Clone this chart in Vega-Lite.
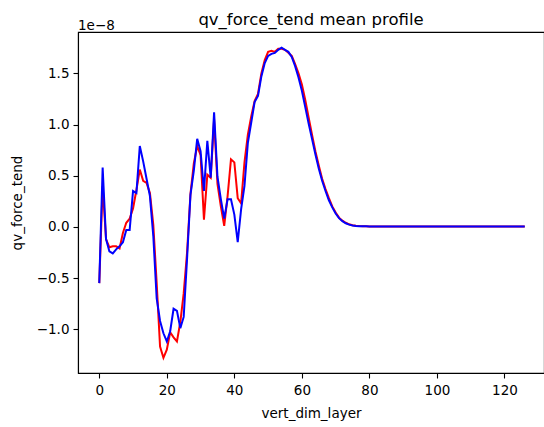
{
  "$schema": "https://vega.github.io/schema/vega-lite/v6.json",
  "autosize": {"type": "none"},
  "padding": {"left": 78, "top": 32, "right": 0, "bottom": 54},
  "width": 466,
  "height": 341,
  "background": "white",
  "config": {
    "font": "DejaVu Sans",
    "view": {"stroke": "#000", "strokeWidth": 1.1},
    "axis": {
      "domainColor": "#000", "tickColor": "#000", "labelColor": "#000", "titleColor": "#000",
      "labelFontSize": 13.5, "titleFontSize": 13.5, "titleFontWeight": "normal",
      "tickSize": 5, "tickWidth": 1.1, "domainWidth": 1.1, "grid": false, "labelFont": "DejaVu Sans", "titleFont": "DejaVu Sans"
    }
  },
  "title": {"text": "qv_force_tend mean profile", "fontSize": 16.5, "fontWeight": "normal", "font": "DejaVu Sans", "color": "#000", "offset": -22, "baseline": "alphabetic", "frame": "group"},
  "data": {"values": [
    {"layer": 0, "red": -0.55, "blue": -0.55},
    {"layer": 1, "red": 0.40, "blue": 0.58},
    {"layer": 2, "red": -0.12, "blue": -0.12},
    {"layer": 3, "red": -0.20, "blue": -0.24},
    {"layer": 4, "red": -0.19, "blue": -0.26},
    {"layer": 5, "red": -0.19, "blue": -0.22},
    {"layer": 6, "red": -0.21, "blue": -0.19},
    {"layer": 7, "red": -0.06, "blue": -0.15},
    {"layer": 8, "red": 0.04, "blue": -0.03},
    {"layer": 9, "red": 0.08, "blue": -0.03},
    {"layer": 10, "red": 0.18, "blue": 0.35},
    {"layer": 11, "red": 0.36, "blue": 0.33},
    {"layer": 12, "red": 0.56, "blue": 0.79},
    {"layer": 13, "red": 0.45, "blue": 0.64},
    {"layer": 14, "red": 0.43, "blue": 0.47},
    {"layer": 15, "red": 0.33, "blue": 0.30},
    {"layer": 16, "red": 0.02, "blue": -0.09},
    {"layer": 17, "red": -0.55, "blue": -0.70},
    {"layer": 18, "red": -1.17, "blue": -0.92},
    {"layer": 19, "red": -1.28, "blue": -1.04},
    {"layer": 20, "red": -1.20, "blue": -1.12},
    {"layer": 21, "red": -1.03, "blue": -1.02},
    {"layer": 22, "red": -1.08, "blue": -0.80},
    {"layer": 23, "red": -1.12, "blue": -0.82},
    {"layer": 24, "red": -0.93, "blue": -0.99},
    {"layer": 25, "red": -0.65, "blue": -0.88},
    {"layer": 26, "red": -0.25, "blue": -0.31},
    {"layer": 27, "red": 0.32, "blue": 0.31},
    {"layer": 28, "red": 0.62, "blue": 0.55},
    {"layer": 29, "red": 0.79, "blue": 0.86},
    {"layer": 30, "red": 0.70, "blue": 0.74},
    {"layer": 31, "red": 0.07, "blue": 0.35},
    {"layer": 32, "red": 0.51, "blue": 0.84},
    {"layer": 33, "red": 0.48, "blue": 0.48},
    {"layer": 34, "red": 1.05, "blue": 1.12},
    {"layer": 35, "red": 0.42, "blue": 0.49},
    {"layer": 36, "red": 0.20, "blue": 0.27},
    {"layer": 37, "red": 0.01, "blue": 0.08},
    {"layer": 38, "red": 0.30, "blue": 0.27},
    {"layer": 39, "red": 0.66, "blue": 0.27},
    {"layer": 40, "red": 0.63, "blue": 0.12},
    {"layer": 41, "red": 0.28, "blue": -0.15},
    {"layer": 42, "red": 0.23, "blue": 0.17},
    {"layer": 43, "red": 0.63, "blue": 0.40},
    {"layer": 44, "red": 0.90, "blue": 0.82},
    {"layer": 45, "red": 1.08, "blue": 1.02},
    {"layer": 46, "red": 1.23, "blue": 1.22},
    {"layer": 47, "red": 1.30, "blue": 1.28},
    {"layer": 48, "red": 1.50, "blue": 1.47},
    {"layer": 49, "red": 1.63, "blue": 1.60},
    {"layer": 50, "red": 1.71, "blue": 1.67},
    {"layer": 51, "red": 1.72, "blue": 1.69},
    {"layer": 52, "red": 1.71, "blue": 1.70},
    {"layer": 53, "red": 1.74, "blue": 1.73},
    {"layer": 54, "red": 1.74, "blue": 1.75},
    {"layer": 55, "red": 1.73, "blue": 1.73},
    {"layer": 56, "red": 1.70, "blue": 1.71},
    {"layer": 57, "red": 1.67, "blue": 1.66},
    {"layer": 58, "red": 1.59, "blue": 1.57},
    {"layer": 59, "red": 1.50, "blue": 1.46},
    {"layer": 60, "red": 1.39, "blue": 1.33},
    {"layer": 61, "red": 1.24, "blue": 1.17},
    {"layer": 62, "red": 1.07, "blue": 1.01},
    {"layer": 63, "red": 0.90, "blue": 0.86},
    {"layer": 64, "red": 0.74, "blue": 0.71},
    {"layer": 65, "red": 0.60, "blue": 0.57},
    {"layer": 66, "red": 0.47, "blue": 0.45},
    {"layer": 67, "red": 0.37, "blue": 0.35},
    {"layer": 68, "red": 0.28, "blue": 0.26},
    {"layer": 69, "red": 0.20, "blue": 0.19},
    {"layer": 70, "red": 0.14, "blue": 0.13},
    {"layer": 71, "red": 0.09, "blue": 0.085},
    {"layer": 72, "red": 0.06, "blue": 0.055},
    {"layer": 73, "red": 0.04, "blue": 0.035},
    {"layer": 74, "red": 0.025, "blue": 0.022},
    {"layer": 75, "red": 0.016, "blue": 0.014},
    {"layer": 76, "red": 0.011, "blue": 0.009},
    {"layer": 77, "red": 0.008, "blue": 0.006},
    {"layer": 78, "red": 0.006, "blue": 0.005},
    {"layer": 79, "red": 0.005, "blue": 0.005},
    {"layer": 80, "red": 0.004, "blue": 0.004},
    {"layer": 81, "red": 0.004, "blue": 0.004},
    {"layer": 82, "red": 0.004, "blue": 0.004},
    {"layer": 83, "red": 0.004, "blue": 0.004},
    {"layer": 84, "red": 0.004, "blue": 0.004},
    {"layer": 85, "red": 0.004, "blue": 0.004},
    {"layer": 86, "red": 0.004, "blue": 0.004},
    {"layer": 87, "red": 0.004, "blue": 0.004},
    {"layer": 88, "red": 0.004, "blue": 0.004},
    {"layer": 89, "red": 0.004, "blue": 0.004},
    {"layer": 90, "red": 0.004, "blue": 0.004},
    {"layer": 91, "red": 0.004, "blue": 0.004},
    {"layer": 92, "red": 0.004, "blue": 0.004},
    {"layer": 93, "red": 0.004, "blue": 0.004},
    {"layer": 94, "red": 0.004, "blue": 0.004},
    {"layer": 95, "red": 0.004, "blue": 0.004},
    {"layer": 96, "red": 0.004, "blue": 0.004},
    {"layer": 97, "red": 0.004, "blue": 0.004},
    {"layer": 98, "red": 0.004, "blue": 0.004},
    {"layer": 99, "red": 0.004, "blue": 0.004},
    {"layer": 100, "red": 0.004, "blue": 0.004},
    {"layer": 101, "red": 0.004, "blue": 0.004},
    {"layer": 102, "red": 0.004, "blue": 0.004},
    {"layer": 103, "red": 0.004, "blue": 0.004},
    {"layer": 104, "red": 0.004, "blue": 0.004},
    {"layer": 105, "red": 0.004, "blue": 0.004},
    {"layer": 106, "red": 0.004, "blue": 0.004},
    {"layer": 107, "red": 0.004, "blue": 0.004},
    {"layer": 108, "red": 0.004, "blue": 0.004},
    {"layer": 109, "red": 0.004, "blue": 0.004},
    {"layer": 110, "red": 0.004, "blue": 0.004},
    {"layer": 111, "red": 0.004, "blue": 0.004},
    {"layer": 112, "red": 0.004, "blue": 0.004},
    {"layer": 113, "red": 0.004, "blue": 0.004},
    {"layer": 114, "red": 0.004, "blue": 0.004},
    {"layer": 115, "red": 0.004, "blue": 0.004},
    {"layer": 116, "red": 0.004, "blue": 0.004},
    {"layer": 117, "red": 0.004, "blue": 0.004},
    {"layer": 118, "red": 0.004, "blue": 0.004},
    {"layer": 119, "red": 0.004, "blue": 0.004},
    {"layer": 120, "red": 0.004, "blue": 0.004},
    {"layer": 121, "red": 0.004, "blue": 0.004},
    {"layer": 122, "red": 0.004, "blue": 0.004},
    {"layer": 123, "red": 0.004, "blue": 0.004},
    {"layer": 124, "red": 0.004, "blue": 0.004},
    {"layer": 125, "red": 0.004, "blue": 0.004},
    {"layer": 126, "red": 0.004, "blue": 0.004}
  ]},
  "layer": [
    {
      "mark": {"type": "line", "color": "#ff0000", "strokeWidth": 2},
      "encoding": {
        "x": {"field": "layer", "type": "quantitative", "title": "vert_dim_layer",
              "scale": {"domain": [-6.3, 131.7], "nice": false, "zero": false},
              "axis": {"values": [0, 20, 40, 60, 80, 100, 120], "labelPadding": 5, "titlePadding": 10, "labelFlush": false}},
        "y": {"field": "red", "type": "quantitative", "title": "qv_force_tend",
              "scale": {"domain": [-1.428, 1.904], "nice": false, "zero": false},
              "axis": {"values": [-1.0, -0.5, 0, 0.5, 1.0, 1.5], "format": ".1f", "labelPadding": 4, "titlePadding": 12, "labelFlush": false}}
      }
    },
    {
      "mark": {"type": "line", "color": "#0000ff", "strokeWidth": 2},
      "encoding": {
        "x": {"field": "layer", "type": "quantitative"},
        "y": {"field": "blue", "type": "quantitative"}
      }
    },
    {
      "data": {"values": [{"label": "1e\u22128"}]},
      "mark": {"type": "text", "align": "left", "baseline": "alphabetic", "dy": -2, "fontSize": 13.5, "font": "DejaVu Sans", "color": "#000"},
      "encoding": {
        "text": {"field": "label", "type": "nominal"},
        "x": {"datum": -6.3, "type": "quantitative"},
        "y": {"datum": 1.904, "type": "quantitative"}
      }
    }
  ]
}
